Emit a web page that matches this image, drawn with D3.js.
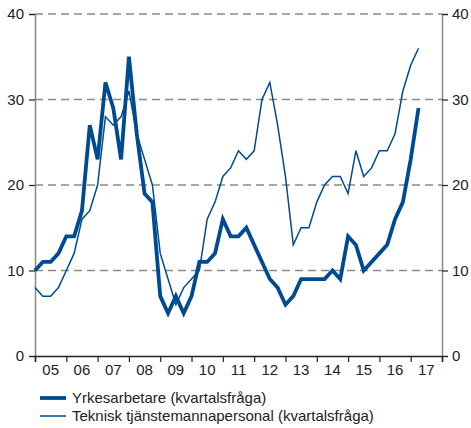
<!DOCTYPE html>
<html>
<head>
<meta charset="utf-8">
<script src="https://cdn.jsdelivr.net/npm/d3@7"></script>
<style>
  body { margin: 0; background: #fff; }
  text { font-family: "Liberation Sans", Arial, sans-serif; fill: #222; }
</style>
</head>
<body>
<div id="chart"></div>
<script>
// quarterly, 2005 Q1 .. 2017 Q2
const years = ['05', '06', '07', '08', '09', '10', '11', '12', '13', '14', '15', '16', '17'];
const yrkesarbetare = [
  10, 11, 11, 12, 14, 14, 17, 27, 23, 32, 29, 23, 35, 26, 19, 18,
  7, 5, 7, 5, 7, 11, 11, 12, 16, 14, 14, 15, 13, 11, 9, 8,
  6, 7, 9, 9, 9, 9, 10, 9, 14, 13, 10, 11, 12, 13, 16, 18,
  23, 29
];
const teknisk = [
  8, 7, 7, 8, 10, 12, 16, 17, 20, 28, 27, 28, 31, 26, 23, 20,
  12, 9, 6, 8, 9, 10, 16, 18, 21, 22, 24, 23, 24, 30, 32, 27,
  21, 13, 15, 15, 18, 20, 21, 21, 19, 24, 21, 22, 24, 24, 26, 31,
  34, 36
];
const yTicks = [0, 10, 20, 30, 40];
const legendLabels = ['Yrkesarbetare (kvartalsfråga)', 'Teknisk tjänstemannapersonal (kvartalsfråga)'];

const W = 471, H = 428;
const mLeft = 35, mRight = 442, mTop = 14, mBottom = 356;
const blue = '#004a92';
const font = '"Liberation Sans", Arial, sans-serif';

const svg = d3.select('#chart').append('svg').attr('width', W).attr('height', H);

const x = d3.scaleLinear().domain([0, years.length * 4]).range([mLeft, mRight]);
const y = d3.scaleLinear().domain([0, 40]).range([mBottom, mTop]);

// grid
svg.append('g').selectAll('line').data(yTicks.filter(d => d > 0)).enter().append('line')
  .attr('x1', mLeft).attr('x2', mRight)
  .attr('y1', d => y(d)).attr('y2', d => y(d))
  .attr('stroke', '#8a8a8a').attr('stroke-width', 1.5).attr('stroke-dasharray', '8,5');

// axes
const yl = svg.append('g').attr('transform', 'translate(' + mLeft + ',0)')
  .call(d3.axisLeft(y).tickValues(yTicks).tickSize(6).tickPadding(5));
const yr = svg.append('g').attr('transform', 'translate(' + mRight + ',0)')
  .call(d3.axisRight(y).tickValues(yTicks).tickSize(6).tickPadding(4));
const xa = svg.append('g').attr('transform', 'translate(0,' + mBottom + ')')
  .call(d3.axisBottom(x).tickValues(d3.range(0, years.length * 4 + 1, 4)).tickSize(6).tickFormat(''));

[yl, yr, xa].forEach(g => {
  g.select('.domain').attr('stroke', '#888').attr('stroke-width', 1.5);
  g.selectAll('.tick line').attr('stroke', '#222').attr('stroke-width', 1.2);
  g.selectAll('text').attr('font-size', 15).attr('fill', '#222')
    .style('font-family', font);
});
xa.select('.domain').attr('stroke', '#222');

svg.append('g').selectAll('text').data(years).enter().append('text')
  .attr('x', (d, i) => x(i * 4 + 2)).attr('y', 375)
  .attr('text-anchor', 'middle').attr('font-size', 15)
  .text(d => d);

// lines
const line = d3.line().x((d, i) => x(i)).y(d => y(d));
svg.append('path').datum(teknisk).attr('d', line)
  .attr('fill', 'none').attr('stroke', blue).attr('stroke-width', 1.5);
svg.append('path').datum(yrkesarbetare).attr('d', line)
  .attr('fill', 'none').attr('stroke', blue).attr('stroke-width', 3.8)
  .attr('stroke-linejoin', 'miter');

// legend
const lg = svg.append('g').selectAll('g').data(legendLabels).enter().append('g')
  .attr('transform', (d, i) => 'translate(40,' + (398 + i * 18) + ')');
lg.append('line').attr('x1', 0).attr('x2', 26)
  .attr('stroke', blue).attr('stroke-width', (d, i) => i === 0 ? 3.8 : 1.5);
lg.append('text').attr('x', 32).attr('y', 5).attr('font-size', 15)
  .text(d => d);
</script>
</body>
</html>
